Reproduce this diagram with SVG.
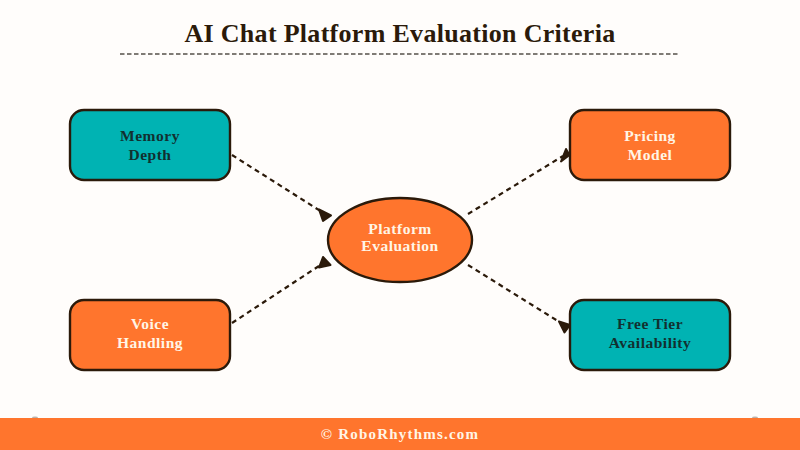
<svg xmlns="http://www.w3.org/2000/svg" width="800" height="450" viewBox="0 0 800 450">
<style>
.n{stroke:#2b1a0a;stroke-width:2.4}
.teal{fill:#00b3b3}
.org{fill:#ff752d}
text{font-family:"Liberation Serif","DejaVu Serif",serif;font-weight:700;text-anchor:middle}
.lbl{font-size:15.5px;letter-spacing:.5px}
.dk{fill:#123030}
.lt{fill:#fff5e6}
.c{fill:none;stroke:#2b1a0a;stroke-width:2.2;stroke-dasharray:5 4}
.h{fill:#2b1a0a;stroke:#2b1a0a;stroke-width:2;stroke-linejoin:round}
.bump{fill:#b8b2ac}
</style>
<rect width="800" height="450" fill="#fffdfb"/>
<g id="title">
<text x="400" y="42" fill="#2b1a0a" style="font-size:26px;letter-spacing:.3px">AI Chat Platform Evaluation Criteria</text>
<line x1="120" y1="54" x2="678" y2="54" stroke="#55504a" stroke-width="1.5" stroke-dasharray="4.5 2.5"/>
</g>
<g id="connectors">
<line class="c" x1="232" y1="155" x2="322" y2="212"/>
<polygon class="h" points="319,209.5 331,215.5 323,221"/>
<line class="c" x1="232" y1="323" x2="322" y2="264"/>
<polygon class="h" points="323,257 330.5,265 319,267.5"/>
<line class="c" x1="468" y1="214" x2="563" y2="156"/>
<polygon class="h" points="566,149 569.5,155 561,161.5"/>
<line class="c" x1="468" y1="265" x2="561" y2="323"/>
<polygon class="h" points="559,321.5 570,325 564.5,332.5"/>
</g>
<g id="memory-depth">
<rect class="n teal" x="70" y="110" width="160" height="70" rx="14"/>
<text class="lbl dk" x="150" y="141">Memory</text>
<text class="lbl dk" x="150" y="160">Depth</text>
</g>
<g id="voice-handling">
<rect class="n org" x="70" y="300" width="160" height="70" rx="14"/>
<text class="lbl lt" x="150" y="329">Voice</text>
<text class="lbl lt" x="150" y="348">Handling</text>
</g>
<g id="pricing-model">
<rect class="n org" x="570" y="110" width="160" height="70" rx="14"/>
<text class="lbl lt" x="650" y="141">Pricing</text>
<text class="lbl lt" x="650" y="160">Model</text>
</g>
<g id="free-tier">
<rect class="n teal" x="570" y="300" width="160" height="70" rx="14"/>
<text class="lbl dk" x="650" y="329">Free Tier</text>
<text class="lbl dk" x="650" y="348">Availability</text>
</g>
<g id="platform-evaluation">
<ellipse class="n org" cx="400" cy="240" rx="72" ry="42"/>
<text class="lbl lt" x="400" y="234">Platform</text>
<text class="lbl lt" x="400" y="251">Evaluation</text>
</g>
<g id="footer">
<ellipse class="bump" cx="35" cy="417.5" rx="3" ry="1"/>
<ellipse class="bump" cx="755" cy="417.5" rx="3" ry="1"/>
<rect y="418" width="800" height="32" fill="#ff752d"/>
<text class="lt" x="400" y="439" style="font-size:15px;letter-spacing:1.2px">© RoboRhythms.com</text>
</g>
</svg>
